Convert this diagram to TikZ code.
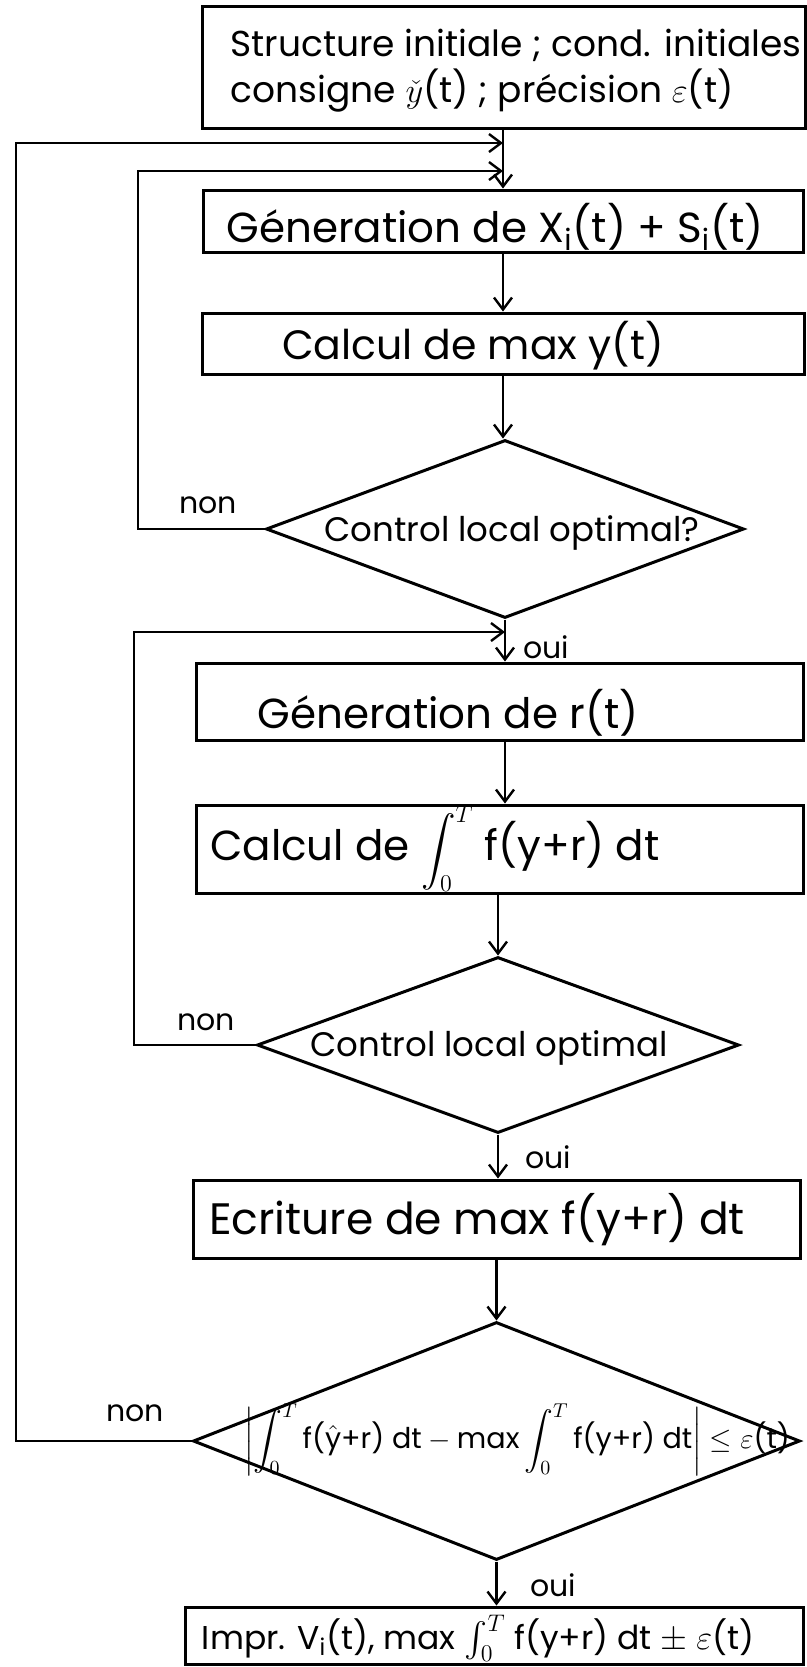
\documentclass[tikz,border=0pt]{standalone}
\usepackage{amsmath}
\usepackage{fontspec}
\setmainfont{Poppins}
\usetikzlibrary{shapes.geometric,arrows.meta}
\newcommand{\fsz}[1]{\fontsize{#1}{1.15\dimexpr#1pt\relax}\selectfont}
\begin{document}
\begin{tikzpicture}[x=0.5pt,y=-0.5pt,
  box/.style={draw, line width=1.5pt, inner sep=0pt},
  dia/.style={draw, diamond, line width=1.5pt, inner sep=0pt},
  txt/.style={inner sep=0pt, align=left},
  lab/.style={inner sep=0pt, font=\fontsize{15}{17}\selectfont},
  flow/.style={line width=1.2pt, -{Straight Barb[length=6pt,width=9pt]}}
]
\useasboundingbox (0,0) rectangle (807,1667);
\fill[white] (0,0) rectangle (807,1667);

% boxes and decisions
\node[box, minimum width=301.5pt, minimum height=61pt] (init) at (503.5,67) {};
\node[box, minimum width=300pt, minimum height=31pt] (genx) at (503,221) {};
\node[box, minimum width=301pt, minimum height=30.5pt] (maxy) at (503,343.5) {};
\node[dia, minimum width=239pt, minimum height=89pt] (dec1) at (505,529) {};
\node[box, minimum width=303.5pt, minimum height=38.5pt] (genr) at (499.5,701.5) {};
\node[box, minimum width=303.5pt, minimum height=44pt] (integ) at (499.5,849) {};
\node[dia, minimum width=241pt, minimum height=88pt] (dec2) at (498,1045) {};
\node[box, minimum width=303.5pt, minimum height=39pt] (ecri) at (496.5,1219) {};
\node[dia, minimum width=303.5pt, minimum height=119pt] (dec3) at (496.5,1441) {};
\node[box, minimum width=309pt, minimum height=28.5pt] (impr) at (494,1635.5) {};

% texts
\node[txt, font=\fontsize{18}{23}\selectfont] (initT) at (516,71)
  {Structure initiale ; cond. initiales\\ consigne $\check{y}$(t) ; précision $\varepsilon$(t)};
\node[txt, font=\fsz{21}] (genxT) at (495,227)
  {Géneration de X\textsubscript{i}(t) + S\textsubscript{i}(t)};
\node[txt, font=\fsz{20.5}] (maxyT) at (473,346) {Calcul de max y(t)};
\node[txt, font=\fsz{17}] (dec1T) at (512,533) {Control local optimal?};
\node[txt, font=\fsz{21}] (genrT) at (448,713) {Géneration de r(t)};
\node[txt, font=\fsz{21}] (integT) at (435,849)
  {Calcul de {\fsz{17}$\displaystyle\int_0^T$} f(y+r) dt};
\node[txt, font=\fsz{17}] (dec2T) at (489,1048) {Control local optimal};
\node[txt, font=\fsz{22}] (ecriT) at (477,1220) {Ecriture de max f(y+r) dt};
\node[txt, font=\fsz{14.3}] (dec3T) at (517,1440)
  {$\biggl|\displaystyle\int_0^T\text{f(}\hat{\text{y}}\text{+r) dt} - \text{max}\int_0^T\text{f(y+r) dt}\biggr| \le \varepsilon\text{(t)}$};
\node[txt, font=\fsz{16.5}] (imprT) at (478,1638)
  {Impr. V\textsubscript{i}(t), max $\int_0^T$ f(y+r) dt $\pm$ $\varepsilon$(t)};

% branch labels
\node[lab] (non1) at (208,505) {non};
\node[lab] (oui1) at (546,647) {oui};
\node[lab] (non2) at (206,1022) {non};
\node[lab] (oui2) at (548,1157) {oui};
\node[lab] (non3) at (135,1413) {non};
\node[lab] (oui3) at (553,1585) {oui};

% loop corners
\coordinate (outer) at (16,143);
\coordinate (loop1) at (138,171);
\coordinate (loop2) at (134,632);

% main flow
\draw[flow] (genx.north |- init.south) -- (genx.north);
\draw[flow] (genx.south) -- (maxy.north -| genx.south);
\draw[flow] (maxy.south -| genx.south) -- (dec1.north -| genx.south);
\draw[flow] (dec1.south) -- (genr.north -| dec1.south);
\draw[flow] (genr.south -| dec1.south) -- (integ.north -| dec1.south);
\draw[flow] (integ.south -| dec2.north) -- (dec2.north);
\draw[flow] (dec2.south) -- (ecri.north -| dec2.south);
\draw[flow] (ecri.south -| dec3.north) -- (dec3.north);
\draw[flow] (dec3.south) -- (impr.north -| dec3.south);

% feedback loops
\draw[flow] (dec3.west) -| (outer) -- (outer -| genx.north);
\draw[flow] (dec1.west) -| (loop1) -- (loop1 -| genx.north);
\draw[flow] (dec2.west) -| (loop2) -- (loop2 -| dec1.south);
\end{tikzpicture}
\end{document}
